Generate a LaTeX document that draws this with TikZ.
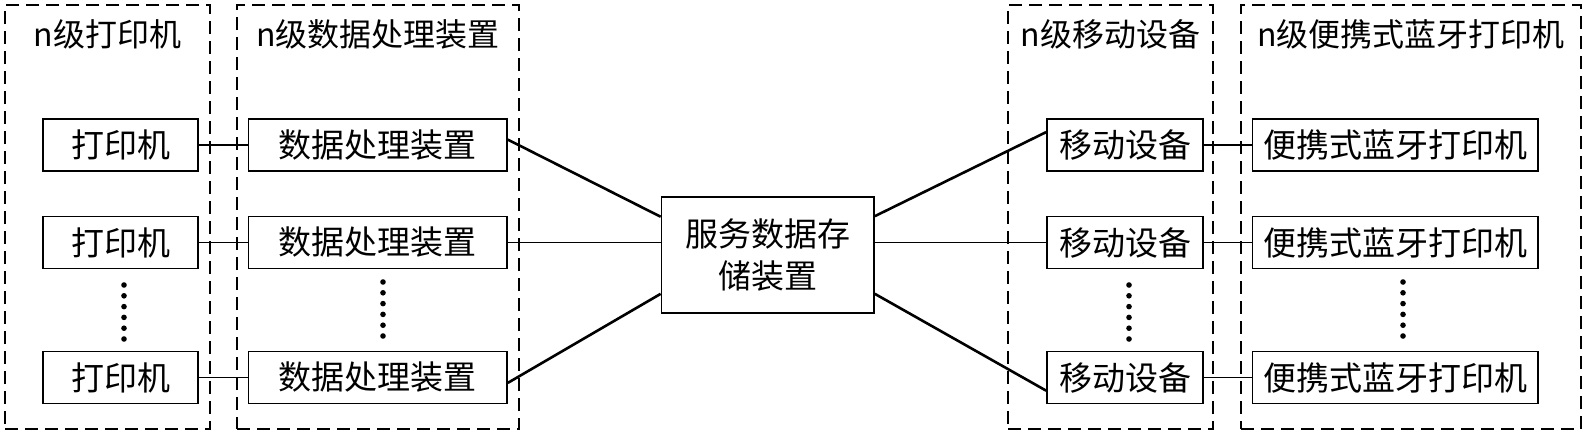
\documentclass[tikz,border=0pt]{standalone}
\usepackage{fontspec}
\setmainfont{Noto Sans CJK SC}
\usetikzlibrary{calc,fit}
\tikzset{
    every node/.append style={align=center},
    box/.style={rectangle,draw=black,line width=0.85pt,minimum height=26pt,inner sep=0pt,
        font=\fontsize{16.5}{21}\selectfont},
    boundary/.style={rectangle,draw=black,line width=0.65pt,dash pattern=on 6.5pt off 3.5pt,inner sep=0pt},
    ttl/.style={anchor=center,yshift=-15pt,inner sep=0pt,font=\fontsize{16}{20}\selectfont},
    link/.style={line width=0.65pt},
    trunk/.style={line width=1.3pt}
}

\begin{document}
\begin{tikzpicture}[x=0.5pt,y=-0.5pt]
    \useasboundingbox (0,0) rectangle (1589,439);

    \node[boundary,fit={(5,5)(210,429)},label={[ttl]north:n级打印机}] (lvlPrt) {};
    \node[boundary,fit={(237,5)(519,429)},label={[ttl]north:n级数据处理装置}] (lvlProc) {};
    \node[boundary,fit={(1008,5)(1213,429)},label={[ttl]north:n级移动设备}] (lvlMob) {};
    \node[boundary,fit={(1241,5)(1581,429)},label={[ttl]north:n级便携式蓝牙打印机}] (lvlBt) {};

    \foreach \i/\y in {1/145,2/242.5,3/377.5} {
        \node[box,minimum width=77.5pt]  (prt\i) at (120.5,\y)   {打印机};
        \node[box,minimum width=129.25pt] (dp\i)  at (377.75,\y)  {数据处理装置};
        \node[box,minimum width=78pt]    (mob\i) at (1125,\y)    {移动设备};
        \node[box,minimum width=142.75pt] (bt\i)  at (1395.25,\y) {便携式蓝牙打印机};
    }
    \node[box,minimum width=106.25pt,minimum height=58pt] (srv) at (767.75,255) {服务数据存\\储装置};

    % vertical ellipses
    \foreach \cx/\cy in {124/285,383/282,1129/285,1403/282}
        \foreach \k in {0,...,5} { \fill (\cx,\cy+10.8*\k) circle (1.4pt); }

    \foreach \i in {1,2,3} {
        \draw[link] (prt\i.east) -- (dp\i.west);
        \draw[link] (mob\i.east) -- (bt\i.west);
    }

    \draw[trunk] ($(dp1.north east)!0.4!(dp1.south east)$) -- ($(srv.north west)!0.175!(srv.south west)$);
    \draw[link]  (dp2.east) -- (dp2.east -| srv.west);
    \draw[trunk] ($(dp3.north east)!0.6!(dp3.south east)$) -- ($(srv.north west)!0.83!(srv.south west)$);

    \draw[trunk] ($(srv.north east)!0.17!(srv.south east)$) -- ($(mob1.north west)!0.26!(mob1.south west)$);
    \draw[link]  (mob2.west -| srv.east) -- (mob2.west);
    \draw[trunk] ($(srv.north east)!0.83!(srv.south east)$) -- ($(mob3.north west)!0.745!(mob3.south west)$);
\end{tikzpicture}
\end{document}
